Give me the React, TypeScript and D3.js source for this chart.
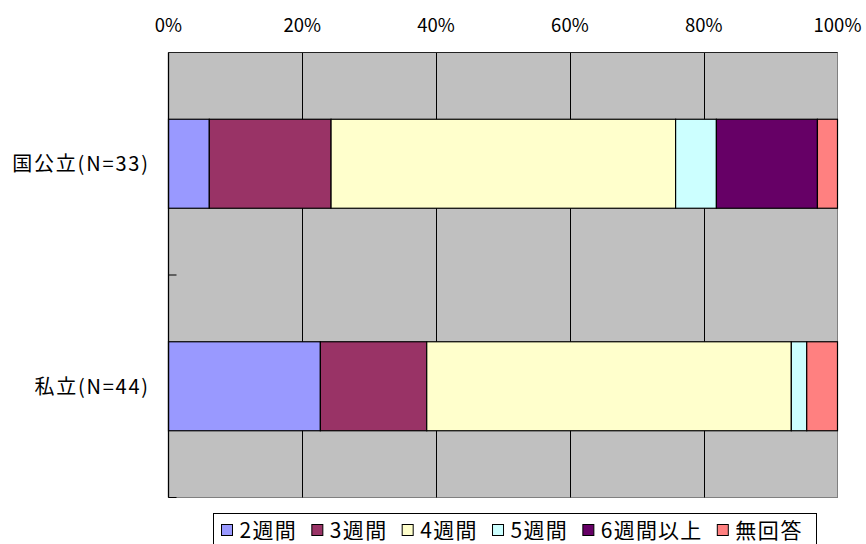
import React, { useEffect, useRef } from "react";
import * as d3 from "d3";

// Survey groups (rows of the stacked bar chart)
const categories = ["国公立(N=33)", "私立(N=44)"];

// Response options, in stacking order
const seriesNames = ["2週間", "3週間", "4週間", "5週間", "6週間以上", "無回答"];
const seriesColors = ["#9999FF", "#993366", "#FFFFCC", "#CCFFFF", "#660066", "#FF8080"];

// Share of respondents (%) for each option, per group
const kokkouritsu = [6.1, 18.2, 51.5, 6.1, 15.1, 3.0];
const shiritsu = [22.7, 15.9, 54.5, 2.3, 0, 4.6];

const tickValues = [0, 20, 40, 60, 80, 100];

const W = 866;
const H = 544;
const FONT = "'Noto Sans CJK JP', 'Noto Sans', sans-serif";

export default function App() {
  const ref = useRef<SVGSVGElement | null>(null);

  useEffect(() => {
    const svg = d3.select(ref.current);
    svg.selectAll("*").remove();

    const left = 168.5;
    const right = 837.5;
    const top = 52.5;
    const bottom = 497.5;

    const x = d3.scaleLinear().domain([0, 100]).range([left, right]);
    const y = d3
      .scaleBand<string>()
      .domain(categories)
      .range([top, bottom])
      .paddingInner(0.6)
      .paddingOuter(0.3);

    const rows = [kokkouritsu, shiritsu];
    const table = categories.map((c, i) => {
      const o: Record<string, number | string> = { category: c };
      seriesNames.forEach((s, j) => (o[s] = rows[i][j]));
      return o;
    });
    const stacked = d3.stack<Record<string, number | string>>().keys(seriesNames)(table as any);

    // plot background
    svg
      .append("rect")
      .attr("x", left)
      .attr("y", top)
      .attr("width", right - left)
      .attr("height", bottom - top)
      .attr("fill", "#C0C0C0")
      .attr("stroke", "#808080")
      .attr("stroke-width", 1);

    // vertical gridlines
    svg
      .append("g")
      .selectAll("line")
      .data(tickValues.slice(1, -1))
      .join("line")
      .attr("x1", (d) => Math.round(x(d)) + 0.5)
      .attr("x2", (d) => Math.round(x(d)) + 0.5)
      .attr("y1", top)
      .attr("y2", bottom)
      .attr("stroke", "#000")
      .attr("stroke-width", 1);

    // top value axis line + labels
    svg
      .append("line")
      .attr("x1", left)
      .attr("x2", right)
      .attr("y1", top)
      .attr("y2", top)
      .attr("stroke", "#222");

    svg
      .append("g")
      .selectAll("text")
      .data(tickValues)
      .join("text")
      .attr("x", (d) => x(d))
      .attr("y", 32)
      .attr("text-anchor", "middle")
      .attr("font-family", FONT)
      .attr("font-size", 18.5)
      .attr("fill", "#000")
      .text((d) => `${d}%`);

    // stacked bars
    const g = svg.append("g");
    stacked.forEach((layer, si) => {
      g.append("g")
        .selectAll("rect")
        .data(layer.filter((d) => d[1] - d[0] > 0))
        .join("rect")
        .attr("x", (d) => x(d[0]))
        .attr("width", (d) => x(d[1]) - x(d[0]))
        .attr("y", (d) => (y(d.data.category as string) as number))
        .attr("height", y.bandwidth())
        .attr("fill", seriesColors[si])
        .attr("stroke", "#000")
        .attr("stroke-width", 1.2);
    });

    // category axis
    svg
      .append("line")
      .attr("x1", left)
      .attr("x2", left)
      .attr("y1", top)
      .attr("y2", bottom)
      .attr("stroke", "#000")
      .attr("stroke-width", 1.3);

    const boundaries = [top + y.step(), bottom];
    svg
      .append("g")
      .selectAll("line")
      .data(boundaries)
      .join("line")
      .attr("x1", left)
      .attr("x2", left + 8)
      .attr("y1", (d) => d)
      .attr("y2", (d) => d)
      .attr("stroke", "#000");

    const labels = svg
      .append("g")
      .selectAll("text")
      .data(categories)
      .join("text")
      .attr("x", 148)
      .attr("y", (d) => (y(d) as number) + y.bandwidth() / 2 + 7.5)
      .attr("text-anchor", "end")
      .attr("font-family", FONT)
      .attr("font-size", 20)
      .attr("fill", "#000")
      .text((d) => d);
    // widen the ASCII parentheses a little, like the fixed-pitch original face
    labels.each(function () {
      const el = this as SVGTextElement;
      const w = el.getComputedTextLength();
      el.setAttribute("textLength", String(w * 1.12));
      el.setAttribute("lengthAdjust", "spacing");
    });

    // legend
    const lg = svg.append("g");
    lg.append("rect")
      .attr("x", 213.5)
      .attr("y", 513.5)
      .attr("width", 603)
      .attr("height", 40)
      .attr("fill", "#fff")
      .attr("stroke", "#000");

    let cx = 221.5;
    seriesNames.forEach((s, i) => {
      lg.append("rect")
        .attr("x", cx)
        .attr("y", 524.5)
        .attr("width", 11)
        .attr("height", 11)
        .attr("fill", seriesColors[i])
        .attr("stroke", "#000");
      const t = lg
        .append("text")
        .attr("x", cx + 18)
        .attr("y", 537.5)
        .attr("font-family", FONT)
        .attr("font-size", 21)
        .attr("fill", "#000")
        .text(s);
      const w = (t.node() as SVGTextElement).getComputedTextLength();
      t.attr("textLength", w * 1.05).attr("lengthAdjust", "spacing");
      cx += 18 + w * 1.05 + 16;
    });
  }, []);

  return (
    <svg
      ref={ref}
      width={W}
      height={H}
      style={{ position: "fixed", left: 0, top: 0, background: "#fff" }}
    />
  );
}
